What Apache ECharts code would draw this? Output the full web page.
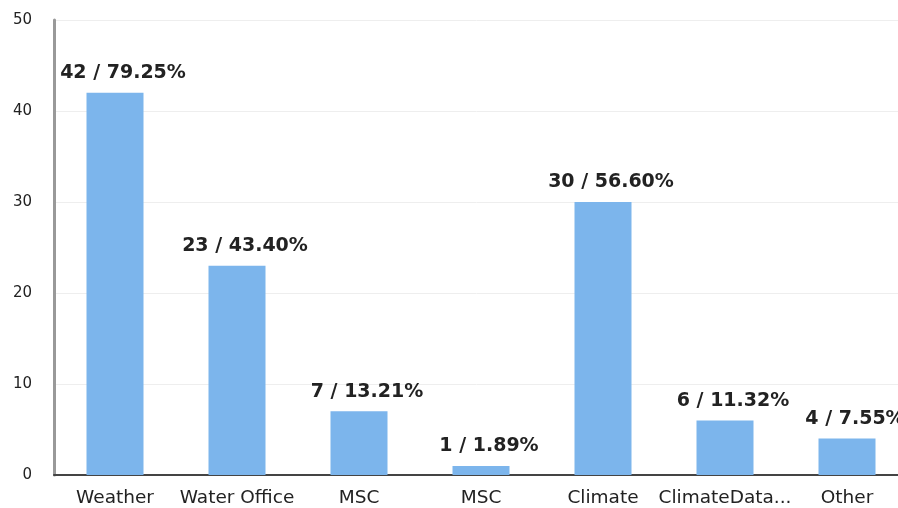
<!DOCTYPE html>
<html><head><meta charset="utf-8">
<script src="https://cdn.jsdelivr.net/npm/echarts@6/dist/echarts.min.js"></script>
<style>html,body{margin:0;padding:0;background:#fff}#c{width:898px;height:508px}</style>
</head><body><div id="c"></div>
<script>
const categories = ["Weather", "Water Office", "MSC", "MSC", "Climate", "ClimateData...", "Other"];
const counts = [42, 23, 7, 1, 30, 6, 4];
const respondents = 53;
const yTicks = [0, 10, 20, 30, 40, 50];

const chart = echarts.init(document.getElementById('c'), null, {renderer: 'canvas'});
chart.setOption({
  animation: false,
  grid: {left: 54, width: 854, top: 20, bottom: 33, containLabel: false, outerBoundsMode: 'none'},
  xAxis: {
    type: 'category',
    data: categories.map((c, i) => ({value: c + '\u200b'.repeat(i)})),
    axisLine: {lineStyle: {color: '#444', width: 2}},
    axisTick: {show: false},
    axisLabel: {color: '#222', fontFamily: 'DejaVu Sans', fontSize: 18.5, margin: 14, interval: 0,
      formatter: v => v.replace(/\u200b/g, '')}
  },
  yAxis: {
    type: 'value', min: yTicks[0], max: yTicks[yTicks.length - 1], interval: 10,
    axisLine: {show: true, lineStyle: {color: '#999', width: 3}},
    axisTick: {show: false},
    splitLine: {lineStyle: {color: '#eee', width: 1}},
    axisLabel: {color: '#222', fontFamily: 'DejaVu Sans', fontSize: 15, margin: 22}
  },
  series: [{
    type: 'bar',
    data: counts,
    barWidth: 57,
    itemStyle: {color: '#7cb5ec'},
    label: {
      show: true, position: 'top', distance: 10, offset: [8, 0],
      color: '#222', fontFamily: 'DejaVu Sans', fontWeight: 'bold', fontSize: 19,
      formatter: p => p.value + ' / ' + (p.value / respondents * 100).toFixed(2) + '%'
    }
  }]
});
</script></body></html>
